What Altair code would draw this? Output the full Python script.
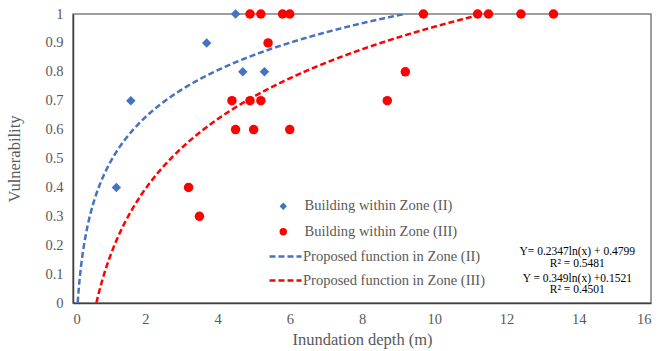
import altair as alt
import pandas as pd

# ---- data ----
zone2_x = [1.2, 1.6, 3.7, 4.5, 4.7, 5.3]
zone2_y = [0.4, 0.7, 0.9, 1.0, 0.8, 0.8]

zone3_x = [4.9, 5.2, 5.8, 6.0, 9.7, 11.2, 11.5, 12.4, 13.3,
           5.4, 4.4, 4.9, 5.2, 8.7, 9.2, 4.5, 5.0, 6.0, 3.2, 3.5]
zone3_y = [1.0, 1.0, 1.0, 1.0, 1.0, 1.0, 1.0, 1.0, 1.0,
           0.9, 0.7, 0.7, 0.7, 0.7, 0.8, 0.6, 0.6, 0.6, 0.4, 0.3]

series_names = ["Building within Zone (II)", "Building within Zone (III)"]
fit_names = ["Proposed function in Zone (II)", "Proposed function in Zone (III)"]

# fitted log functions shown on the chart: y = a*ln(x) + b
fit2_a, fit2_b = 0.2347, 0.4799
fit3_a, fit3_b = 0.349, 0.1521

eq_lines = ["Y= 0.2347ln(x) + 0.4799", "R² = 0.5481",
            "Y = 0.349ln(x) +0.1521", "R² = 0.4501"]
eq_x = [13.96, 13.96, 13.96, 13.96]
eq_y = [0.176, 0.136, 0.083, 0.044]

x_ticks = list(range(0, 17, 2))
y_ticks = [round(i * 0.1, 1) for i in range(11)]

BLUE = "#4472C4"
RED = "#FF0000"
FONT = "Liberation Serif"
GRAY = "#595959"

pts = pd.DataFrame({
    "x": zone2_x + zone3_x,
    "y": zone2_y + zone3_y,
    "series": [series_names[0]] * len(zone2_x) + [series_names[1]] * len(zone3_x),
})
eq = pd.DataFrame({"t": eq_lines, "x": eq_x, "y": eq_y})

xscale = alt.Scale(domain=[0, 16], nice=False)
yscale = alt.Scale(domain=[0, 1], nice=False)
xaxis = alt.Axis(values=x_ticks, title="Inundation depth (m)", grid=False, ticks=False,
                 labelPadding=9, titlePadding=6, labelFont=FONT, titleFont=FONT)
yaxis = alt.Axis(values=y_ticks, title="Vulnerability", grid=False, ticks=False,
                 format="~g", labelPadding=10, titlePadding=22, labelFont=FONT, titleFont=FONT)

curves = alt.Chart(alt.sequence(0.1, 12.0, 0.002, as_="x")).transform_calculate(
    **{
        fit_names[0]: f"{fit2_a} * log(datum.x) + {fit2_b}",
        fit_names[1]: f"{fit3_a} * log(datum.x) + {fit3_b}",
    }
).transform_fold(fit_names, as_=["fit", "y"]).transform_filter(
    "datum.y >= 0 && datum.y <= 1"
).mark_line(strokeDash=[6, 3], strokeWidth=2.5, clip=True).encode(
    x=alt.X("x:Q", scale=xscale, axis=xaxis),
    y=alt.Y("y:Q", scale=yscale, axis=yaxis),
    color=alt.Color("fit:N", scale=alt.Scale(domain=fit_names, range=[BLUE, RED]),
                    legend=alt.Legend(title=None, orient="none", legendX=195, legendY=225,
                                      symbolType="stroke", symbolSize=1024,
                                      symbolStrokeWidth=2.5, symbolDash=[6, 3],
                                      labelOffset=0, rowPadding=-7, padding=0, labelLimit=400,
                                      labelFont=FONT, labelFontSize=14.5, labelColor=GRAY)),
    detail="fit:N",
    order="x:Q",
)

points = alt.Chart(pts).mark_point(filled=True, opacity=1, strokeWidth=0, size=90).encode(
    x=alt.X("x:Q", scale=xscale, axis=xaxis),
    y=alt.Y("y:Q", scale=yscale, axis=yaxis),
    color=alt.Color("series:N", scale=alt.Scale(domain=series_names, range=[BLUE, RED]),
                    legend=alt.Legend(title=None, orient="none", legendX=203, legendY=185,
                                      symbolSize=55, labelOffset=14, rowPadding=10.5,
                                      padding=0, labelLimit=400,
                                      labelFont=FONT, labelFontSize=14.5, labelColor=GRAY)),
    shape=alt.Shape("series:N", scale=alt.Scale(domain=series_names, range=["diamond", "circle"])),
)

texts = alt.Chart(eq).mark_text(font=FONT, fontSize=11.5, color="#000000", align="center",
                               baseline="middle").encode(
    x=alt.X("x:Q", scale=xscale, axis=xaxis),
    y=alt.Y("y:Q", scale=yscale, axis=yaxis),
    text="t:N",
)

chart = alt.layer(curves, points, texts).resolve_scale(
    color="independent", shape="independent"
).properties(
    width=578, height=289,
    autosize=alt.AutoSizeParams(type="none"),
    padding={"left": 73, "top": 14, "right": 18, "bottom": 48},
).configure(
    font=FONT
).configure_view(
    stroke="#7f7f7f", strokeWidth=1.5
).configure_axis(
    domainColor="#404040", domainWidth=1.5,
    labelFont=FONT, labelFontSize=14.5, labelColor=GRAY,
    titleFont=FONT, titleFontSize=16.5, titleColor=GRAY, titleFontWeight="normal",
).configure_legend(
    labelFont=FONT
)

chart.save("out.html", embed_options={"renderer": "svg", "actions": False})
